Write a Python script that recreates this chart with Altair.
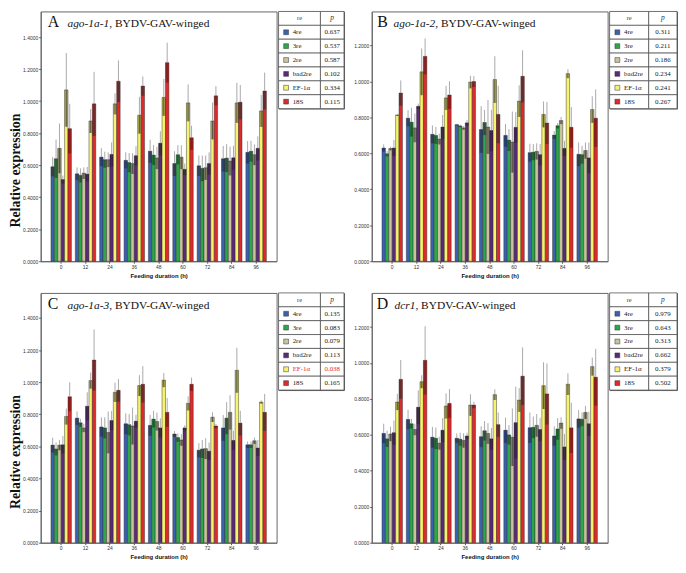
import altair as alt
import pandas as pd

times = ["0", "12", "24", "36", "48", "60", "72", "84", "96"]
re_names = ["4re", "3re", "2re", "bad2re", "EF-1α", "18S"]
re_colors = ["#3d62ad", "#2ba84a", "#c9c39c", "#5b2a7b", "#f7f36c", "#de2a2b"]

# ---- Panel A: ago-1a-1 ----
a_mean = [
    [0.590, 0.546, 0.650, 0.630, 0.687, 0.610, 0.596, 0.640, 0.680],
    [0.640, 0.536, 0.634, 0.616, 0.663, 0.665, 0.580, 0.644, 0.687],
    [0.705, 0.550, 0.634, 0.610, 0.645, 0.650, 0.584, 0.626, 0.665],
    [0.510, 0.544, 0.667, 0.659, 0.737, 0.574, 0.610, 0.646, 0.705],
    [1.070, 0.876, 0.983, 0.912, 1.023, 0.989, 0.876, 0.989, 0.939],
    [0.828, 0.983, 1.124, 1.094, 1.240, 0.771, 1.033, 0.993, 1.063],
]
a_err = [
    [0.060, 0.040, 0.056, 0.050, 0.072, 0.077, 0.064, 0.080, 0.070],
    [0.120, 0.044, 0.050, 0.060, 0.062, 0.060, 0.080, 0.087, 0.065],
    [0.155, 0.036, 0.046, 0.065, 0.070, 0.075, 0.076, 0.090, 0.065],
    [0.025, 0.045, 0.075, 0.060, 0.075, 0.036, 0.070, 0.075, 0.075],
    [0.230, 0.075, 0.066, 0.115, 0.115, 0.115, 0.115, 0.125, 0.100],
    [0.155, 0.200, 0.130, 0.060, 0.125, 0.075, 0.060, 0.107, 0.115],
]
a_p = ["0.637", "0.537", "0.587", "0.102", "0.334", "0.115"]

# ---- Panel B: ago-1a-2 ----
b_mean = [
    [0.630, 0.796, 0.706, 0.760, 0.733, 0.700, 0.604, 0.702, 0.595],
    [0.598, 0.774, 0.700, 0.753, 0.772, 0.674, 0.607, 0.754, 0.593],
    [0.627, 0.742, 0.680, 0.742, 0.747, 0.663, 0.611, 0.783, 0.616],
    [0.630, 0.862, 0.747, 0.770, 0.727, 0.745, 0.593, 0.628, 0.575],
    [0.814, 1.054, 0.909, 0.997, 1.011, 0.891, 0.817, 1.044, 0.844],
    [0.936, 1.140, 0.925, 1.000, 0.817, 1.029, 0.769, 0.745, 0.796],
]
b_err = [
    [0.020, 0.045, 0.050, 0.005, 0.130, 0.063, 0.050, 0.022, 0.066],
    [0.015, 0.080, 0.047, 0.007, 0.070, 0.060, 0.045, 0.015, 0.050],
    [0.010, 0.080, 0.030, 0.010, 0.150, 0.170, 0.045, 0.020, 0.045],
    [0.045, 0.015, 0.067, 0.015, 0.115, 0.085, 0.060, 0.042, 0.086],
    [0.005, 0.130, 0.067, 0.035, 0.130, 0.088, 0.072, 0.025, 0.074],
    [0.070, 0.100, 0.077, 0.030, 0.160, 0.145, 0.117, 0.113, 0.160],
]
b_p = ["0.311", "0.211", "0.186", "0.234", "0.241", "0.267"]

# ---- Panel C: ago-1a-3 ----
c_mean = [
    [0.608, 0.776, 0.721, 0.741, 0.731, 0.677, 0.576, 0.715, 0.610],
    [0.584, 0.747, 0.715, 0.735, 0.770, 0.655, 0.584, 0.776, 0.610],
    [0.608, 0.715, 0.687, 0.727, 0.755, 0.640, 0.586, 0.812, 0.635],
    [0.610, 0.850, 0.761, 0.757, 0.715, 0.715, 0.570, 0.637, 0.590],
    [0.786, 1.010, 0.937, 0.979, 1.013, 0.868, 0.782, 1.074, 0.876],
    [0.909, 1.138, 0.949, 0.987, 0.812, 0.987, 0.727, 0.745, 0.812],
]
c_err = [
    [0.046, 0.042, 0.060, 0.065, 0.065, 0.018, 0.044, 0.080, 0.020],
    [0.040, 0.025, 0.066, 0.066, 0.052, 0.026, 0.056, 0.100, 0.020],
    [0.032, 0.026, 0.130, 0.115, 0.056, 0.036, 0.065, 0.107, 0.020],
    [0.054, 0.087, 0.060, 0.040, 0.060, 0.016, 0.054, 0.060, 0.050],
    [0.050, 0.050, 0.060, 0.065, 0.044, 0.044, 0.030, 0.140, 0.010],
    [0.090, 0.190, 0.070, 0.113, 0.090, 0.042, 0.014, 0.077, 0.115],
]
c_p = ["0.135", "0.083", "0.079", "0.113", "0.038", "0.165"]

# ---- Panel D: dcr1 ----
d_mean = [
    [0.608, 0.686, 0.587, 0.581, 0.590, 0.626, 0.640, 0.594, 0.689],
    [0.578, 0.662, 0.581, 0.576, 0.623, 0.600, 0.642, 0.633, 0.687],
    [0.605, 0.630, 0.554, 0.569, 0.608, 0.587, 0.653, 0.666, 0.725],
    [0.612, 0.754, 0.626, 0.594, 0.578, 0.668, 0.630, 0.533, 0.662],
    [0.783, 0.896, 0.761, 0.766, 0.824, 0.794, 0.874, 0.882, 0.980],
    [0.909, 1.015, 0.775, 0.766, 0.657, 0.927, 0.828, 0.639, 0.921],
]
d_err = [
    [0.054, 0.054, 0.058, 0.027, 0.058, 0.070, 0.085, 0.054, 0.049],
    [0.045, 0.027, 0.060, 0.036, 0.054, 0.054, 0.060, 0.060, 0.038],
    [0.040, 0.032, 0.036, 0.040, 0.058, 0.160, 0.063, 0.032, 0.036],
    [0.068, 0.094, 0.067, 0.018, 0.060, 0.200, 0.065, 0.072, 0.067],
    [0.045, 0.036, 0.070, 0.060, 0.030, 0.066, 0.130, 0.060, 0.050],
    [0.108, 0.190, 0.080, 0.018, 0.068, 0.160, 0.170, 0.140, 0.158],
]
d_p = ["0.979", "0.643", "0.313", "0.662", "0.379", "0.502"]

W = 238
H = 252
SERIF = "Liberation Serif"
SANS = "Liberation Sans"

# approximate Times italic advance widths (em) for placing the title parts
ITALIC_W = {"a": 0.5, "g": 0.5, "o": 0.5, "-": 0.333, "1": 0.5, "2": 0.5, "3": 0.5,
            "d": 0.5, "c": 0.444, "r": 0.389}


def panel_df(means, errs):
    rows = []
    for r, name in enumerate(re_names):
        for t, tm in enumerate(times):
            m = means[r][t]
            e = errs[r][t]
            rows.append({"time": tm, "re": name, "mean": m, "lo": m - e, "hi": m + e})
    return pd.DataFrame(rows)


def panel(means, errs, ymax, ticks, letter, gene, left, letter_x, gene_x):
    df = panel_df(means, errs)
    xscale = alt.Scale(paddingInner=0.16, paddingOuter=0.42)
    xaxis = alt.Axis(labelAngle=0, labelFontSize=5, labelFont=SANS, labelColor="#333",
                     tickSize=2, tickColor="#555", labelPadding=1, domainColor="#666",
                     titleFont=SANS, titleFontSize=6, titleFontWeight="bold",
                     titleColor="#111", titlePadding=3)
    yscale = alt.Scale(domain=[0, ymax], nice=False, zero=True)
    if left:
        yaxis = alt.Axis(values=ticks, format=".4f", grid=False, labelFontSize=5,
                         labelFont=SANS, labelColor="#333", tickSize=2, tickColor="#555",
                         labelPadding=1, domainColor="#666", minExtent=17, maxExtent=17,
                         title="Relative expression", titleFont=SERIF, titleFontSize=14,
                         titleFontWeight="bold", titleColor="#111", titlePadding=1,
                         titleY=160)
    else:
        yaxis = alt.Axis(values=ticks, format=".4f", grid=False, labelFontSize=5,
                         labelFont=SANS, labelColor="#333", tickSize=2, tickColor="#555",
                         labelPadding=1, domainColor="#666", title=None)

    def X():
        return alt.X("time:N", sort=times, scale=xscale, axis=xaxis,
                     title="Feeding duration (h)")

    def XO():
        return alt.XOffset("re:N", sort=re_names,
                           scale=alt.Scale(paddingInner=0, paddingOuter=0))

    def Y(f):
        return alt.Y(f, scale=yscale, axis=yaxis,
                     title="Relative expression" if left else None)

    base = alt.Chart(df)
    bars = base.mark_bar(stroke="#2a2a2a", strokeWidth=0.45).encode(
        x=X(), xOffset=XO(), y=Y("mean:Q"),
        color=alt.Color("re:N", sort=re_names,
                        scale=alt.Scale(domain=re_names, range=re_colors), legend=None),
    )
    shade = base.mark_bar(color="black", opacity=0.27).encode(
        x=X(), xOffset=XO(), y=Y("lo:Q"), y2="mean:Q"
    )
    err_hi = base.mark_rule(color="#a0a0a0", strokeWidth=0.9).encode(
        x=X(), xOffset=XO(), y=Y("mean:Q"), y2="hi:Q"
    )
    err_lo = base.mark_rule(color="#3a3a3a", strokeWidth=0.9, opacity=0.8).encode(
        x=X(), xOffset=XO(), y=Y("lo:Q"), y2="mean:Q"
    )

    gw = sum(ITALIC_W.get(ch, 0.5) for ch in gene) * 11.5
    t_letter = alt.Chart(pd.DataFrame({"t": [letter]})).mark_text(
        font=SERIF, fontSize=16, align="left", baseline="alphabetic", color="#111"
    ).encode(text="t:N", x=alt.value(letter_x), y=alt.value(16))
    t_gene = alt.Chart(pd.DataFrame({"t": [gene]})).mark_text(
        font=SERIF, fontSize=11.5, fontStyle="italic", align="left",
        baseline="alphabetic", color="#111"
    ).encode(text="t:N", x=alt.value(gene_x), y=alt.value(16))
    t_rest = alt.Chart(pd.DataFrame({"t": [", BYDV-GAV-winged"]})).mark_text(
        font=SERIF, fontSize=11.5, align="left", baseline="alphabetic", color="#111"
    ).encode(text="t:N", x=alt.value(gene_x + gw), y=alt.value(16))

    return alt.layer(bars, shade, err_hi, err_lo, t_letter, t_gene, t_rest).properties(
        width=W, height=H
    )


def legend(pvals, width, split, highlight=None):
    rows_order = ["hdr"] + re_names
    cells = pd.DataFrame(
        [{"row": r, "x0": 0.0, "x1": split} for r in rows_order]
        + [{"row": r, "x0": split, "x1": 1.0} for r in rows_order]
    )
    xs = alt.Scale(domain=[0, 1], nice=False, zero=False)
    ys = alt.Scale(paddingInner=0, paddingOuter=0)
    Yr = alt.Y("row:N", sort=rows_order, scale=ys, axis=None)

    rect = alt.Chart(cells).mark_rect(fill="white", stroke="#444", strokeWidth=0.7).encode(
        x=alt.X("x0:Q", scale=xs, axis=None), x2="x1:Q", y=Yr
    )
    hdr = pd.DataFrame({"row": ["hdr", "hdr"], "xc": [split / 2, (split + 1) / 2],
                        "t": ["re", "p"]})
    hdr_re = alt.Chart(hdr.iloc[[0]]).mark_text(
        font=SERIF, fontSize=6.5, color="#444", fill="#444").encode(
        x=alt.X("xc:Q", scale=xs, axis=None), y=Yr, text="t:N")
    hdr_p = alt.Chart(hdr.iloc[[1]]).mark_text(
        font=SERIF, fontSize=7.5, fontStyle="italic", color="#333", fill="#333").encode(
        x=alt.X("xc:Q", scale=xs, axis=None), y=Yr, text="t:N")

    body = pd.DataFrame({
        "row": re_names,
        "p": pvals,
        "tc": ["#e8302f" if n == highlight else "#222" for n in re_names],
    })
    sw = alt.Chart(body).mark_square(size=24, stroke="#333", strokeWidth=0.5, opacity=1).encode(
        x=alt.datum(0.115, scale=xs), y=Yr,
        fill=alt.Fill("row:N", scale=alt.Scale(domain=re_names, range=re_colors), legend=None),
    )
    lab = alt.Chart(body).mark_text(font=SERIF, fontSize=7, align="left").encode(
        x=alt.datum(0.215, scale=xs), y=Yr, text="row:N",
        color=alt.Color("tc:N", scale=None, legend=None),
    )
    pv = alt.Chart(body).mark_text(font=SERIF, fontSize=7, align="center").encode(
        x=alt.datum((split + 1) / 2, scale=xs), y=Yr, text="p:N",
        color=alt.Color("tc:N", scale=None, legend=None),
    )
    return alt.layer(rect, hdr_re, hdr_p, sw, lab, pv).properties(width=width, height=98)


pA = panel(a_mean, a_err, 1.56, [0, 0.2, 0.4, 0.6, 0.8, 1.0, 1.2, 1.4], "A", "ago-1a-1", True, 7, 27)
pB = panel(b_mean, b_err, 1.39, [0, 0.2, 0.4, 0.6, 0.8, 1.0, 1.2], "B", "ago-1a-2", False, 5.5, 22)
pC = panel(c_mean, c_err, 1.556, [0, 0.2, 0.4, 0.6, 0.8, 1.0, 1.2, 1.4], "C", "ago-1a-3", True, 7, 27)
pD = panel(d_mean, d_err, 1.39, [0, 0.2, 0.4, 0.6, 0.8, 1.0, 1.2], "D", "dcr1", False, 5, 23)

lA = legend(a_p, 66, 0.64)
lB = legend(b_p, 68, 0.58)
lC = legend(c_p, 66, 0.64, highlight="EF-1α")
lD = legend(d_p, 68, 0.58)

row1 = alt.hconcat(alt.hconcat(pA, lA, spacing=0), alt.hconcat(pB, lB, spacing=0), spacing=8)
row2 = alt.hconcat(alt.hconcat(pC, lC, spacing=0), alt.hconcat(pD, lD, spacing=0), spacing=8)

chart = alt.vconcat(row1, row2, spacing=13).properties(padding=0).configure_view(
    stroke="#666", strokeWidth=1
)

chart.save("out.html", embed_options={"renderer": "svg", "actions": False})
